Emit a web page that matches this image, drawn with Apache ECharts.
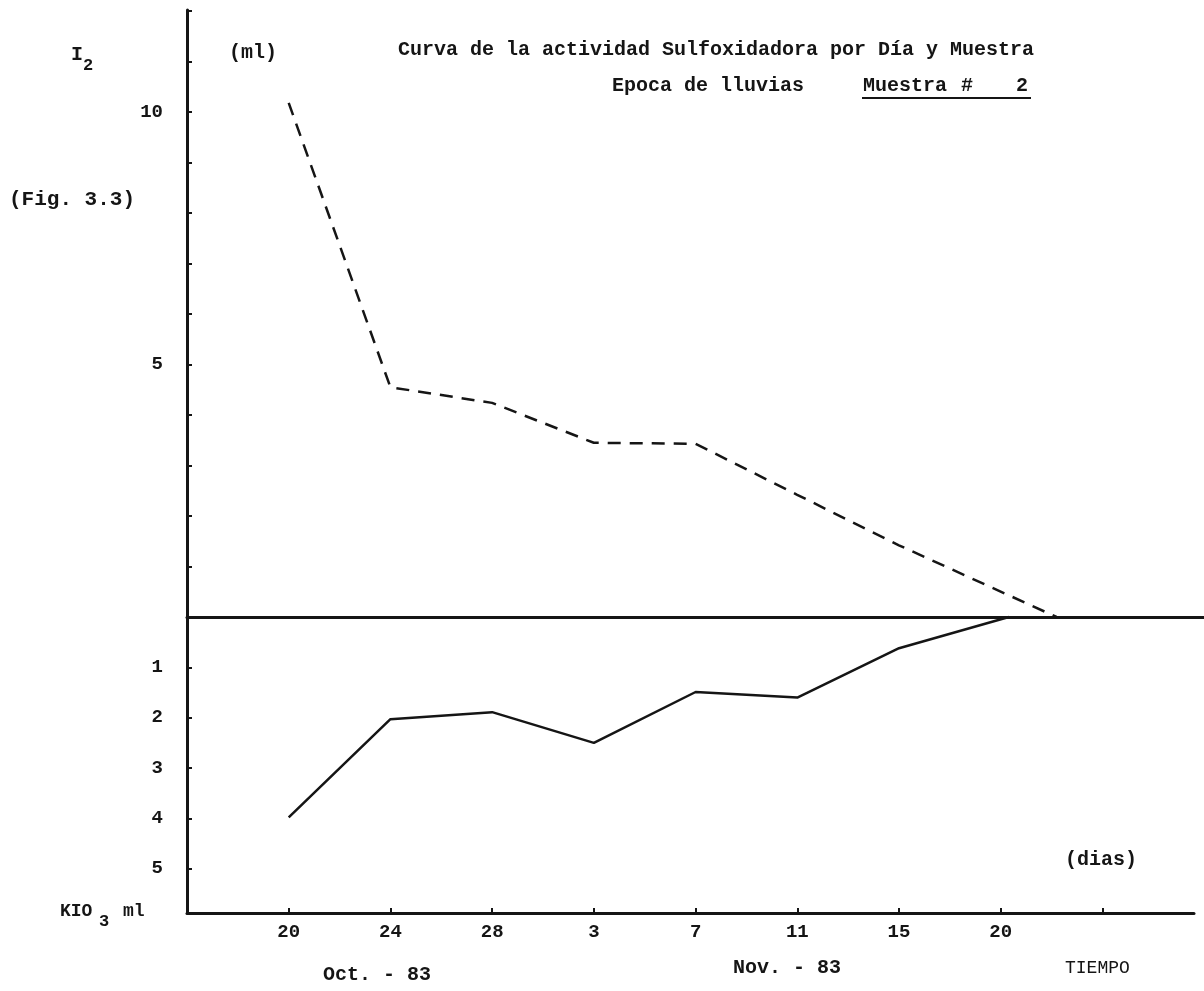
<!DOCTYPE html>
<html><head><meta charset="utf-8">
<script src="https://cdn.jsdelivr.net/npm/echarts@6/dist/echarts.min.js"></script>
<style>html,body{margin:0;padding:0;background:#fff}#c{width:1204px;height:991px}</style>
</head><body><div id="c"></div>
<script>
// ---- data ----
const dayLabels = ['20', '24', '28', '3', '7', '11', '15', '20'];   // Oct 20 .. Nov 20
const dayLabelPos = [0, 1, 2, 3, 4, 5, 6, 7];
const dayTickPos = [0, 1, 2, 3, 4, 5, 6, 7, 8];
const i2Values = [10.18, 4.55, 4.24, 3.45, 3.43, 2.42, 1.42];       // I2 (ml), dashed
const i2EndIndex = 7.55;                                              // dashed line meets baseline
const i2EndValue = 0;
const kio3Values = [3.98, 2.03, 1.89, 2.5, 1.49, 1.6, 0.62];         // KIO3 (ml), solid
const kio3EndIndex = 7.08;                                            // solid line meets baseline
const kio3EndValue = 0;
const i2LabelValues = [5, 10];
const i2TickValues = [1, 2, 3, 4, 5, 6, 7, 8, 9, 10, 11, 12];
const kio3LabelValues = [1, 2, 3, 4, 5];

const INK = '#151515';
const FONT = '"Liberation Mono", "DejaVu Sans Mono", monospace';

const chart = echarts.init(document.getElementById('c'), null, {renderer: 'canvas'});

function txt(text, x, y, size, weight, align) {
  return {
    type: 'text', silent: true,
    style: {
      text: text, x: x, y: y, fill: INK,
      font: (weight || 'bold') + ' ' + size + 'px ' + FONT,
      align: align || 'left', verticalAlign: 'middle'
    }
  };
}

const axisLineStyle = {color: INK, width: 3};
const labelStyle = {color: INK, fontFamily: FONT, fontSize: 19, fontWeight: 'bold'};

chart.setOption({
  animation: false,
  backgroundColor: '#ffffff',
  grid: [
    {left: 187, top: 10, width: 1017, height: 607},
    {left: 187, top: 617, width: 1007, height: 296}
  ],
  xAxis: [
    {
      gridIndex: 0, type: 'value', min: -1, max: 9,
      axisLine: {show: true, onZero: false, lineStyle: axisLineStyle},
      axisTick: {show: false}, axisLabel: {show: false}, splitLine: {show: false}
    },
    {
      gridIndex: 1, type: 'value', min: -1, max: 8.9, position: 'bottom',
      axisLine: {show: true, onZero: false, lineStyle: axisLineStyle},
      axisTick: {show: true, inside: true, length: 5, customValues: dayTickPos, lineStyle: {color: INK, width: 2}},
      axisLabel: Object.assign({customValues: dayLabelPos, margin: 10,
        formatter: function (v) { return dayLabels[Math.round(v)]; }}, labelStyle),
      splitLine: {show: false}
    }
  ],
  yAxis: [
    {
      gridIndex: 0, type: 'value', min: 0, max: 12.02,
      axisLine: {show: true, onZero: false, lineStyle: axisLineStyle},
      axisTick: {show: true, inside: true, length: 5, customValues: i2TickValues, lineStyle: {color: INK, width: 2}},
      axisLabel: Object.assign({customValues: i2LabelValues, margin: 24}, labelStyle),
      splitLine: {show: false}
    },
    {
      gridIndex: 1, type: 'value', min: 0, max: 5.88, inverse: true,
      axisLine: {show: true, onZero: false, lineStyle: axisLineStyle},
      axisTick: {show: true, inside: true, length: 5, customValues: kio3LabelValues, lineStyle: {color: INK, width: 2}},
      axisLabel: Object.assign({customValues: kio3LabelValues, margin: 24}, labelStyle),
      splitLine: {show: false}
    }
  ],
  series: [
    {
      name: 'I2', type: 'line', xAxisIndex: 0, yAxisIndex: 0,
      data: i2Values.map(function (v, i) { return [i, v]; }).concat([[i2EndIndex, i2EndValue]]),
      symbol: 'none', clip: false,
      lineStyle: {color: INK, width: 2.5, type: [13, 9]}
    },
    {
      name: 'KIO3', type: 'line', xAxisIndex: 1, yAxisIndex: 1,
      data: kio3Values.map(function (v, i) { return [i, v]; }).concat([[kio3EndIndex, kio3EndValue]]),
      symbol: 'none', clip: false,
      lineStyle: {color: INK, width: 2.5}
    }
  ],
  graphic: [
    txt('Curva de la actividad Sulfoxidadora por Día y Muestra', 398, 50, 20),
    txt('Epoca de lluvias', 612, 86, 20),
    txt('Muestra', 863, 86, 20),
    txt('#', 961, 86, 20),
    txt('2', 1016, 86, 20),
    {type: 'line', silent: true, shape: {x1: 862, y1: 98, x2: 1031, y2: 98}, style: {stroke: INK, lineWidth: 2}},
    txt('I', 71, 55, 20),
    txt('2', 83, 66, 17),
    txt('(ml)', 229, 53, 20),
    txt('(Fig. 3.3)', 9, 200, 21),
    txt('(dias)', 1065, 860, 20),
    txt('KIO', 60, 911, 18),
    txt('3', 99, 922, 17),
    txt('ml', 123, 911, 18),
    txt('Oct. - 83', 323, 975, 20),
    txt('Nov. - 83', 733, 968, 20),
    txt('TIEMPO', 1065, 968, 18, 'normal')
  ]
});
</script>
</body></html>
